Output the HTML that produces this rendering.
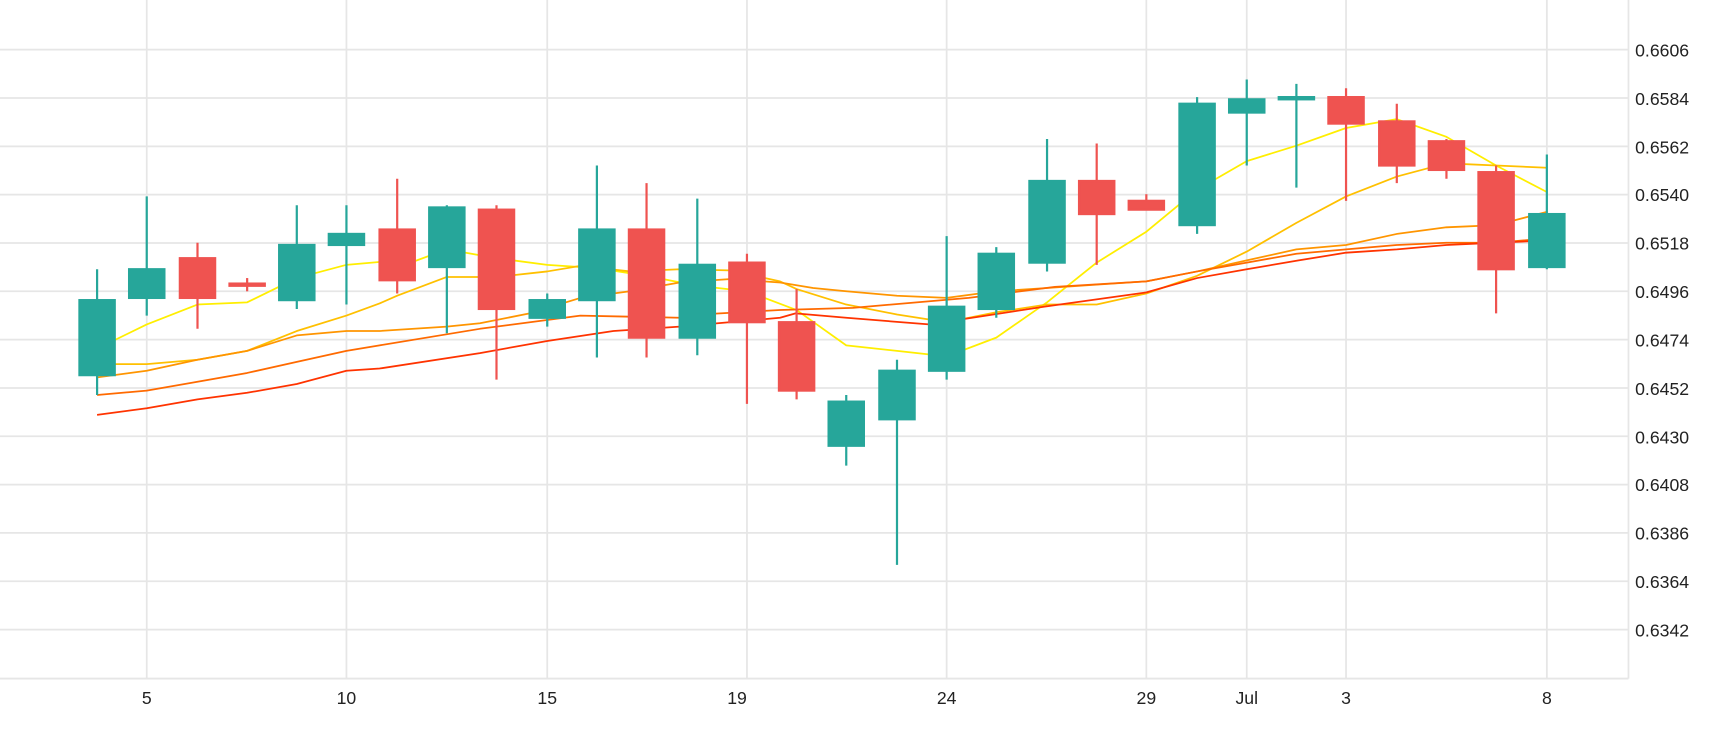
<!DOCTYPE html>
<html><head><meta charset="utf-8"><style>
html,body{margin:0;padding:0;background:#fff;}
svg{display:block;}
text{font-family:"Liberation Sans",sans-serif;font-size:16px;fill:#222;}
</style></head><body>
<svg width="1730" height="730" viewBox="0 0 1568 661.6" xmlns="http://www.w3.org/2000/svg">
<g stroke="#e6e6e6" stroke-width="1.6">
<line x1="0" x2="1476" y1="45" y2="45"/><line x1="0" x2="1476" y1="88.8" y2="88.8"/>
<line x1="0" x2="1476" y1="132.6" y2="132.6"/><line x1="0" x2="1476" y1="176.4" y2="176.4"/>
<line x1="0" x2="1476" y1="220.2" y2="220.2"/><line x1="0" x2="1476" y1="264" y2="264"/>
<line x1="0" x2="1476" y1="307.8" y2="307.8"/><line x1="0" x2="1476" y1="351.6" y2="351.6"/>
<line x1="0" x2="1476" y1="395.4" y2="395.4"/><line x1="0" x2="1476" y1="439.2" y2="439.2"/>
<line x1="0" x2="1476" y1="483" y2="483"/><line x1="0" x2="1476" y1="526.8" y2="526.8"/>
<line x1="0" x2="1476" y1="570.6" y2="570.6"/><line x1="0" x2="1476" y1="615" y2="615"/>
<line x1="133" x2="133" y1="0" y2="615"/><line x1="314" x2="314" y1="0" y2="615"/>
<line x1="496" x2="496" y1="0" y2="615"/><line x1="677" x2="677" y1="0" y2="615"/>
<line x1="858" x2="858" y1="0" y2="615"/><line x1="1039" x2="1039" y1="0" y2="615"/>
<line x1="1130" x2="1130" y1="0" y2="615"/><line x1="1220" x2="1220" y1="0" y2="615"/>
<line x1="1402" x2="1402" y1="0" y2="615"/><line x1="1476" x2="1476" y1="0" y2="615"/>
</g>
<g>
<text x="1482" y="51">0.6606</text><text x="1482" y="95">0.6584</text><text x="1482" y="139">0.6562</text>
<text x="1482" y="182">0.6540</text><text x="1482" y="226">0.6518</text><text x="1482" y="270">0.6496</text>
<text x="1482" y="314">0.6474</text><text x="1482" y="358">0.6452</text><text x="1482" y="402">0.6430</text>
<text x="1482" y="445">0.6408</text><text x="1482" y="489">0.6386</text><text x="1482" y="533">0.6364</text>
<text x="1482" y="577">0.6342</text>
</g>
<g text-anchor="middle">
<text x="133" y="638">5</text><text x="314" y="638">10</text><text x="496" y="638">15</text>
<text x="668" y="638">19</text><text x="858" y="638">24</text><text x="1039" y="638">29</text>
<text x="1130" y="638">Jul</text><text x="1220" y="638">3</text><text x="1402" y="638">8</text>
</g>
<g fill="none" stroke-width="1.6" stroke-linejoin="round">
<polyline stroke="#ffee00" points="88,316 133,294 179,276 224,274 269,252 314,240 360,236 375,237 405,226 450,234 496,240 541,243 586,250 632,259 677,264 722,281 767,313 813,318 858,323 903,306 949,274 994,238 1039,210 1085,172 1130,146 1175,132 1220,116 1266,108 1311,124 1356,150 1402,174"/>
<polyline stroke="#ffc000" points="88,330 133,330 179,326 224,318 269,300 314,286 344,275 360,268 405,251 450,251 496,246 526,241 571,246 616,244 661,245 707,255 722,262 767,276 813,285 858,292 903,283 949,276 994,276 1039,266 1085,250 1130,228 1175,202 1220,178 1266,160 1311,148 1356,150 1402,152"/>
<polyline stroke="#ff9500" points="88,342 133,336 179,326 224,318 269,304 314,300 344,300 405,296 435,293 480,284 526,270 571,264 616,256 661,253 707,256 737,261 767,264 813,268 858,270 903,264 949,261 994,258 1039,255 1085,246 1130,236 1175,226 1220,222 1266,212 1311,206 1356,204 1402,192"/>
<polyline stroke="#ff6a00" points="88,358 133,354 179,346 224,338 269,328 314,318 344,313 435,298 526,286 616,288 634,285 707,281 773,279 878,270 956,260 1039,255 1085,246 1130,238 1175,230 1220,226 1266,222 1311,220 1356,220 1402,216"/>
<polyline stroke="#ff3300" points="88,376 133,370 179,362 224,356 269,348 314,336 344,334 435,320 496,309 556,300 616,296 707,288 721,284 767,288 842,294 946,278 1039,265 1085,252 1130,244 1177,236 1220,229 1266,226 1311,222 1356,220 1402,218"/>
</g>
<g stroke-width="2">
<g stroke="#26a69a" fill="#26a69a">
<line x1="88" x2="88" y1="244" y2="358"/><rect x="72" y="272" width="32" height="68"/>
<line x1="133" x2="133" y1="178" y2="286"/><rect x="117" y="244" width="32" height="26"/>
<line x1="269" x2="269" y1="186" y2="280"/><rect x="253" y="222" width="32" height="50"/>
<line x1="314" x2="314" y1="186" y2="276"/><rect x="298" y="212" width="32" height="10"/>
<line x1="405" x2="405" y1="186" y2="302"/><rect x="389" y="188" width="32" height="54"/>
<line x1="496" x2="496" y1="266" y2="296"/><rect x="480" y="272" width="32" height="16"/>
<line x1="541" x2="541" y1="150" y2="324"/><rect x="525" y="208" width="32" height="64"/>
<line x1="632" x2="632" y1="180" y2="322"/><rect x="616" y="240" width="32" height="66"/>
<line x1="767" x2="767" y1="358" y2="422"/><rect x="751" y="364" width="32" height="40"/>
<line x1="813" x2="813" y1="326" y2="512"/><rect x="797" y="336" width="32" height="44"/>
<line x1="858" x2="858" y1="214" y2="344"/><rect x="842" y="278" width="32" height="58"/>
<line x1="903" x2="903" y1="224" y2="288"/><rect x="887" y="230" width="32" height="50"/>
<line x1="949" x2="949" y1="126" y2="246"/><rect x="933" y="164" width="32" height="74"/>
<line x1="1085" x2="1085" y1="88" y2="212"/><rect x="1069" y="94" width="32" height="110"/>
<line x1="1130" x2="1130" y1="72" y2="150"/><rect x="1114" y="90" width="32" height="12"/>
<line x1="1175" x2="1175" y1="76" y2="170"/><rect x="1159" y="88" width="32" height="2"/>
<line x1="1402" x2="1402" y1="140" y2="244"/><rect x="1386" y="194" width="32" height="48"/>
</g>
<g stroke="#ef5350" fill="#ef5350">
<line x1="179" x2="179" y1="220" y2="298"/><rect x="163" y="234" width="32" height="36"/>
<line x1="224" x2="224" y1="252" y2="264"/><rect x="208" y="257" width="32" height="2"/>
<line x1="360" x2="360" y1="162" y2="266"/><rect x="344" y="208" width="32" height="46"/>
<line x1="450" x2="450" y1="186" y2="344"/><rect x="434" y="190" width="32" height="90"/>
<line x1="586" x2="586" y1="166" y2="324"/><rect x="570" y="208" width="32" height="98"/>
<line x1="677" x2="677" y1="230" y2="366"/><rect x="661" y="238" width="32" height="54"/>
<line x1="722" x2="722" y1="262" y2="362"/><rect x="706" y="292" width="32" height="62"/>
<line x1="994" x2="994" y1="130" y2="240"/><rect x="978" y="164" width="32" height="30"/>
<line x1="1039" x2="1039" y1="176" y2="190"/><rect x="1023" y="182" width="32" height="8"/>
<line x1="1220" x2="1220" y1="80" y2="182"/><rect x="1204" y="88" width="32" height="24"/>
<line x1="1266" x2="1266" y1="94" y2="166"/><rect x="1250" y="110" width="32" height="40"/>
<line x1="1311" x2="1311" y1="126" y2="162"/><rect x="1295" y="128" width="32" height="26"/>
<line x1="1356" x2="1356" y1="150" y2="284"/><rect x="1340" y="156" width="32" height="88"/>
</g>
</g>
</svg>
</body></html>
